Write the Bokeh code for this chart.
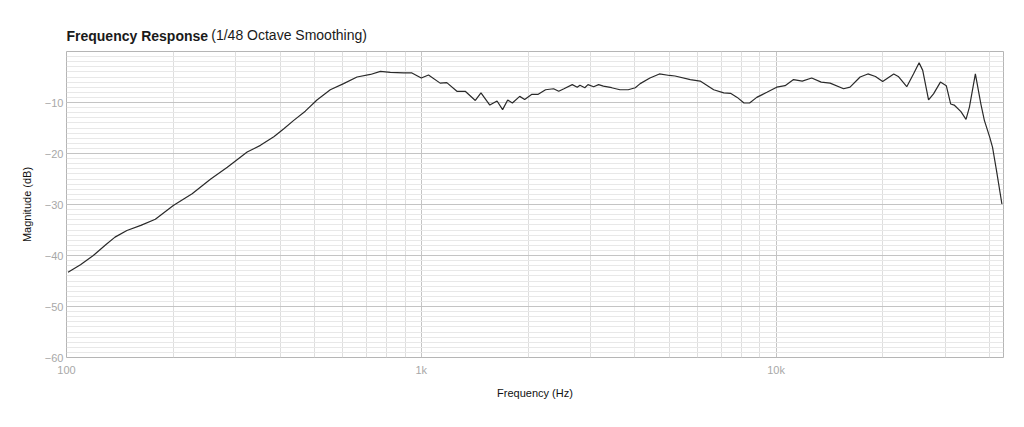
import json
from bokeh.plotting import figure
from bokeh.models import FixedTicker, CustomJSTickFormatter, Range1d, LogAxis
from bokeh.embed import file_html
from bokeh.resources import INLINE

freq_hz = [101, 109.5, 119, 129, 137, 148, 162, 178, 200, 226, 255, 284, 323, 352,
           384, 409, 437, 471, 508, 554, 604, 659, 719, 767, 818, 892, 941, 1000,
           1048, 1130, 1180, 1260, 1330, 1420, 1473, 1560, 1635, 1695, 1752, 1806,
           1894, 1956, 2050, 2136, 2240, 2360, 2440, 2524, 2664, 2752, 2800, 2890,
           2950, 3060, 3160, 3260, 3440, 3630, 3830, 4010, 4140, 4410, 4690, 5010,
           5190, 5730, 6110, 6670, 7120, 7440, 7770, 8120, 8420, 8820, 9420, 10040,
           10600, 11200, 11850, 12600, 13400, 14200, 15500, 16160, 17250, 18140,
           19060, 19970, 21460, 22100, 23350, 24390, 25300, 25900, 26900, 27780,
           29050, 30180, 31060, 31760, 33190, 34300, 35070, 36450, 37780, 38640,
           40000, 40750, 41800, 43300]
magnitude_db = [-43.3, -41.8, -40.0, -37.9, -36.4, -35.1, -34.1, -32.9, -30.2, -27.9,
                -25.0, -22.7, -19.7, -18.4, -16.7, -15.2, -13.5, -11.7, -9.5, -7.5,
                -6.3, -5.0, -4.5, -3.9, -4.1, -4.2, -4.2, -5.2, -4.6, -6.2, -6.1,
                -7.8, -7.8, -9.6, -8.1, -10.5, -9.7, -11.4, -9.5, -10.1, -8.8, -9.4,
                -8.4, -8.4, -7.5, -7.3, -7.8, -7.3, -6.5, -7.0, -6.6, -7.1, -6.5,
                -6.9, -6.5, -6.8, -7.1, -7.5, -7.5, -7.1, -6.3, -5.2, -4.4, -4.7,
                -4.8, -5.5, -5.8, -7.5, -8.1, -8.2, -9.0, -10.1, -10.1, -9.0, -8.0,
                -7.0, -6.7, -5.5, -5.8, -5.2, -6.0, -6.2, -7.3, -7.0, -5.0, -4.4,
                -4.9, -5.9, -4.4, -4.9, -6.9, -4.4, -2.2, -3.7, -9.5, -8.3, -6.0,
                -6.7, -10.3, -10.5, -11.8, -13.3, -10.9, -4.4, -10.3, -13.5, -16.8,
                -18.8, -23.3, -29.9]

x_major_ticks = [100, 1000, 10000]
x_minor_ticks = [200, 300, 400, 500, 600, 700, 800, 900,
                 2000, 3000, 4000, 5000, 6000, 7000, 8000, 9000,
                 20000, 30000, 40000]
y_major_ticks = [-60, -50, -40, -30, -20, -10]
y_minor_ticks = list(range(-60, 0))

title_main = "Frequency Response"
title_sub = "(1/48 Octave Smoothing)"
x_label = "Frequency (Hz)"
y_label = "Magnitude (dB)"

FONT = "Liberation Sans"
MAIN_ANCHOR = 158.3  # x position (Hz) where the bold title part is centred
SUB_ANCHOR = 424     # x position (Hz) where the subtitle is centred

p = figure(x_axis_type="log", output_backend="svg", toolbar_location=None,
           frame_width=937, frame_height=306,
           min_border_left=66, min_border_right=13, min_border_top=51,
           min_border_bottom=62,
           x_range=Range1d(100, 43750), y_range=Range1d(-60, 0),
           background_fill_color="white", border_fill_color="white")

p.outline_line_color = "#b5b5b5"
p.outline_line_width = 1

xax = p.xaxis[0]
yax = p.yaxis[0]
xax.ticker = FixedTicker(ticks=x_major_ticks, minor_ticks=x_minor_ticks)
yax.ticker = FixedTicker(ticks=y_major_ticks, minor_ticks=y_minor_ticks)
xax.formatter = CustomJSTickFormatter(
    code="return tick >= 1000 ? (tick / 1000) + 'k' : tick.toString();")

for ax in (xax, yax):
    ax.axis_line_color = None
    ax.major_tick_line_color = None
    ax.minor_tick_line_color = None
    ax.major_tick_out = 0
    ax.major_tick_in = 0
    ax.minor_tick_out = 0
    ax.minor_tick_in = 0
    ax.major_label_text_color = "#a8a8a8"
    ax.major_label_text_font = FONT
    ax.major_label_text_font_size = "11px"
    ax.axis_label_text_font = FONT
    ax.axis_label_text_font_size = "11px"
    ax.axis_label_text_font_style = "normal"
    ax.axis_label_text_color = "#111111"

xax.axis_label = x_label
yax.axis_label = y_label
xax.major_label_standoff = 6
xax.axis_label_standoff = 8
yax.major_label_standoff = 3
yax.axis_label_standoff = 9

p.xgrid.grid_line_color = "#c4c4c4"
p.xgrid.minor_grid_line_color = "#dedede"
p.ygrid.grid_line_color = "#c4c4c4"
p.ygrid.minor_grid_line_color = "#e8e8e8"

p.line(freq_hz, magnitude_db, line_color="#2a2a2a", line_width=1.2)


def title_axis(anchor, text, style, standoff):
    return LogAxis(ticker=FixedTicker(ticks=[anchor], minor_ticks=[]),
                   formatter=CustomJSTickFormatter(code="return " + json.dumps(text) + ";"),
                   axis_line_color=None, major_tick_line_color=None,
                   minor_tick_line_color=None, major_tick_out=0, major_tick_in=0,
                   minor_tick_out=0, minor_tick_in=0,
                   major_label_standoff=standoff, major_label_text_font=FONT,
                   major_label_text_font_size="14px",
                   major_label_text_font_style=style,
                   major_label_text_color="#1a1a1a")


p.add_layout(title_axis(SUB_ANCHOR, title_sub, "normal", 9), "above")
p.add_layout(title_axis(MAIN_ANCHOR, title_main, "bold", -20), "above")

open("out.html", "w").write(file_html(p, INLINE))
